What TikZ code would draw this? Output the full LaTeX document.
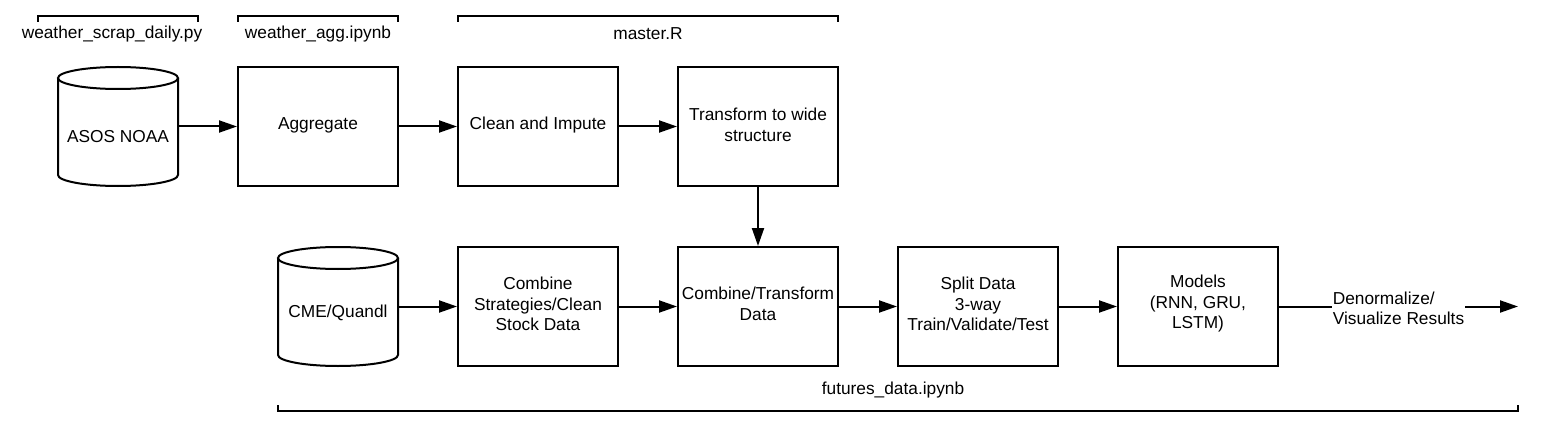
\documentclass[tikz,border=0pt]{standalone}
\usepackage{fontspec}
\setmainfont{Liberation Sans}
\usetikzlibrary{arrows.meta}
\begin{document}
\begin{tikzpicture}[x=1pt,y=-1pt,
  every node/.style={font=\fontsize{17.3}{20.5}\selectfont, inner sep=0pt},
  proc/.style={draw, line width=2pt, minimum width=160pt, minimum height=119pt, align=center, fill=white},
  txt/.style={align=center},
  anchorbox/.style={minimum width=120pt, minimum height=119pt},
  lbl/.style={align=center},
  cyl/.style={draw, line width=2pt, fill=white},
  arr/.style={line width=2pt, -{Triangle[length=18pt,width=12pt]}},
  brk/.style={line width=2pt}]
\useasboundingbox (0,0) rectangle (1556,433);

% top brackets
\draw[brk] (38,22) -- (38,16) -- (198,16) -- (198,22);
\draw[brk] (238,22) -- (238,16) -- (398,16) -- (398,22);
\draw[brk] (458,22) -- (458,16) -- (838,16) -- (838,22);
\node[lbl] (t1) at (112,34) {weather\_scrap\_daily.py};
\node[lbl] (t2) at (318,34) {weather\_agg.ipynb};
\node[lbl] (t3) at (648,34) {master.R};

% bottom bracket
\draw[brk] (278,405) -- (278,411) -- (1518,411) -- (1518,405);
\node[lbl] (t4) at (893,390) {futures\_data.ipynb};

% ASOS cylinder
\draw[cyl] (58,78) -- (58,175) .. controls (58,181.08) and (84.9,186) .. (118,186)
  .. controls (151.1,186) and (178,181.08) .. (178,175) -- (178,78);
\draw[cyl] (118,78) ellipse [x radius=60, y radius=11];
\node[anchorbox] (asos) at (118,126.5) {};
\node[lbl] (asoslbl) at (118,137) {ASOS NOAA};

% CME cylinder
\draw[cyl] (278,258) -- (278,355) .. controls (278,361.08) and (304.9,366) .. (338,366)
  .. controls (371.1,366) and (398,361.08) .. (398,355) -- (398,258);
\draw[cyl] (338,258) ellipse [x radius=60, y radius=11];
\node[anchorbox] (cme) at (338,306.5) {};
\node[lbl] (cmelbl) at (338,313) {CME/Quandl};

% top row boxes
\node[proc] (agg) at (318,126.5) {};
\node[proc] (clean) at (538,126.5) {};
\node[proc] (wide) at (758,126.5) {};
\node[txt] (aggt) at (318,125) {Aggregate};
\node[txt] (cleant) at (538,125) {Clean and Impute};
\node[txt] (widet) at (758,125) {Transform to wide\\structure};

% bottom row boxes
\node[proc] (comb) at (538,306.5) {};
\node[proc] (ct) at (758,306.5) {};
\node[proc] (split) at (978,306.5) {};
\node[proc] (models) at (1198,306.5) {};
\node[txt] (combt) at (538,304) {Combine\\Strategies/Clean\\Stock Data};
\node[txt] (ctt) at (758,304) {Combine/Transform\\Data};
\node[txt] (splitt) at (978,304) {Split Data\\3-way\\Train/Validate/Test};
\node[txt] (modelst) at (1198,304) {Models\\(RNN, GRU,\\LSTM)};

\coordinate (endpt) at (1518,306.5);

% connectors
\draw[arr] (asos.east) -- (agg.west);
\draw[arr] (agg.east) -- (clean.west);
\draw[arr] (clean.east) -- (wide.west);
\draw[arr] (wide.south) -- (ct.north);
\draw[arr] (cme.east) -- (comb.west);
\draw[arr] (comb.east) -- (ct.west);
\draw[arr] (ct.east) -- (split.west);
\draw[arr] (split.east) -- (models.west);
\draw[arr] (models.east) -- (endpt)
  node[pos=0.5, fill=white, align=left, inner sep=1pt, yshift=-2pt] (denorm) {Denormalize/\\Visualize Results};
\end{tikzpicture}
\end{document}
